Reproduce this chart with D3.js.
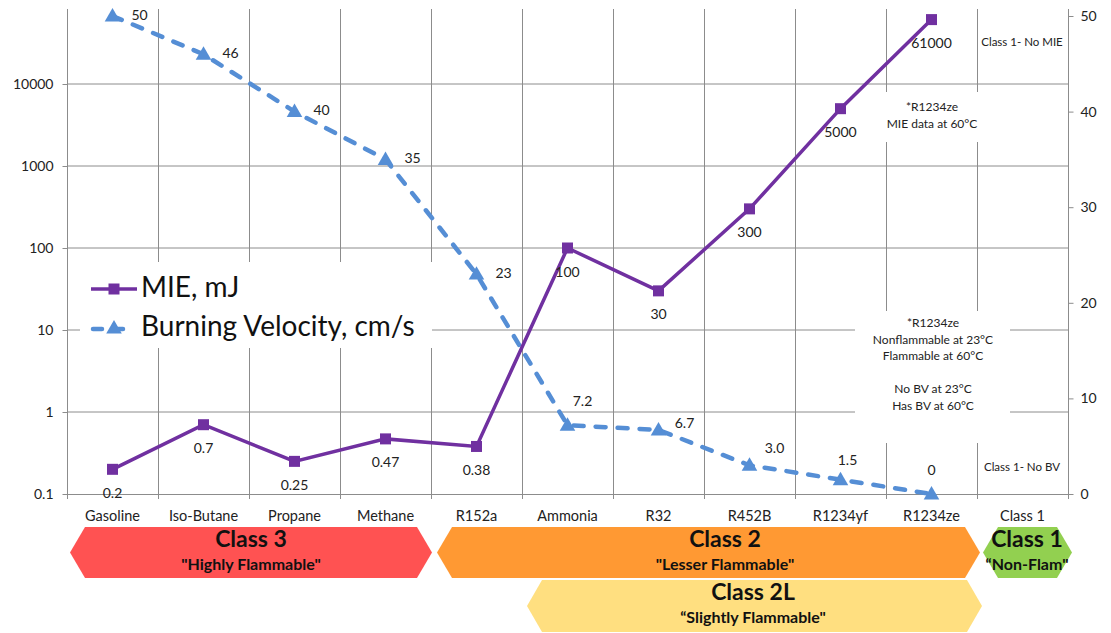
<!DOCTYPE html>
<html><head><meta charset="utf-8">
<script src="https://cdn.jsdelivr.net/npm/d3@7"></script>
<style>
body{margin:0;background:#fff;}
svg{display:block;font-family:Lato,"Open Sans",sans-serif;}
</style></head>
<body><svg id="c" width="1111" height="633"></svg>
<script>
const categories = ["Gasoline","Iso-Butane","Propane","Methane","R152a","Ammonia","R32","R452B","R1234yf","R1234ze","Class 1"];
const mieValues = [0.2,0.7,0.25,0.47,0.38,100,30,300,5000,61000];
const mieLabels = ["0.2","0.7","0.25","0.47","0.38","100","30","300","5000","61000"];
const bvValues = [50,46,40,35,23,7.2,6.7,3.0,1.5,0];
const bvLabels = ["50","46","40","35","23","7.2","6.7","3.0","1.5","0"];
const leftTicks = [0.1,1,10,100,1000,10000];
const leftTickLabels = ["0.1","1","10","100","1000","10000"];
const rightTicks = [0,10,20,30,40,50];
const seriesNames = ["MIE, mJ","Burning Velocity, cm/s"];
const classBands = [
  {name:"Class 3", sub:"\"Highly Flammable\"", color:"#FF5252"},
  {name:"Class 2", sub:"\"Lesser Flammable\"", color:"#FF9933"},
  {name:"Class 2L", sub:"\u201CSlightly Flammable\"", color:"#FFDF80"},
  {name:"Class 1", sub:"\u201CNon-Flam\"", color:"#92D050"}
];
// label offsets (styling)
const bvLabelOffsets = [[27,0],[27,0],[27,0],[27,0],[27,0],[15,-23],[26,-5],[25,-16],[7,-18],[0,-23]];

const svg = d3.select("#c");
const L=67, R=1068, T=9, B=494;
const x = d3.scaleBand().domain(categories).range([L,R]);
const yL = d3.scaleLog().domain([0.1,10000]).range([B,84]);
const yR = d3.scaleLinear().domain([0,50]).range([B,16]);
const cx = c => x(c)+x.bandwidth()/2;
const grid="#8c8c8c";

// gridlines
const g = svg.append("g");
g.selectAll(".hg").data(leftTicks.slice(1)).join("line")
  .attr("x1",L).attr("x2",R).attr("y1",d=>yL(d)).attr("y2",d=>yL(d)).attr("stroke",grid);
g.selectAll(".vg").data(categories.slice(1)).join("line")
  .attr("x1",d=>x(d)+0.5).attr("x2",d=>x(d)+0.5).attr("y1",T).attr("y2",B).attr("stroke",grid);

// white boxes hiding gridlines
const boxes = [[80,262,352,86],[884,92,96,50],[855,311,155,132]];
svg.selectAll(".wb").data(boxes).join("rect")
  .attr("x",d=>d[0]).attr("y",d=>d[1]).attr("width",d=>d[2]).attr("height",d=>d[3]).attr("fill","#fff");

// axes
const axL = svg.append("g").attr("transform",`translate(${L+0.5},0)`)
  .call(d3.axisLeft(yL).tickValues(leftTicks).tickFormat((d,i)=>leftTickLabels[i]).tickSize(5).tickPadding(9));
const axR = svg.append("g").attr("transform",`translate(${R+0.5},0)`)
  .call(d3.axisRight(yR).tickValues(rightTicks).tickSize(5).tickPadding(7));
const axB = svg.append("g").attr("transform",`translate(0,${B+0.5})`)
  .call(d3.axisBottom(x).tickSize(0).tickPadding(16));
svg.append("g").selectAll("line").data(categories.concat(["_end"])).join("line")
  .attr("x1",(d,i)=>(i<categories.length?x(d):R)+0.5).attr("x2",(d,i)=>(i<categories.length?x(d):R)+0.5)
  .attr("y1",B).attr("y2",B+5).attr("stroke",grid);
[axL,axR,axB].forEach(a=>{
  a.selectAll(".tick line").attr("stroke",grid);
  a.selectAll("text").attr("fill","#222").style("font-size","14px").style("font-family","Lato,sans-serif");
});
axB.selectAll("text").style("font-size","14.5px");
axL.select(".domain").remove(); axR.select(".domain").remove(); axB.select(".domain").remove();
svg.append("line").attr("x1",L+0.5).attr("x2",L+0.5).attr("y1",T).attr("y2",B).attr("stroke",grid);
svg.append("line").attr("x1",R+0.5).attr("x2",R+0.5).attr("y1",T).attr("y2",B).attr("stroke",grid);
svg.append("line").attr("x1",L).attr("x2",R).attr("y1",B+0.5).attr("y2",B+0.5).attr("stroke",grid);

const purple="#7030A0", blue="#558ED5";
const mieData = mieValues.map((v,i)=>({c:categories[i],v,l:mieLabels[i]}));
const bvData = bvValues.map((v,i)=>({c:categories[i],v,l:bvLabels[i],o:bvLabelOffsets[i]}));

// BV line
svg.append("path").datum(bvData)
  .attr("d",d3.line().x(d=>cx(d.c)).y(d=>yR(d.v)))
  .attr("fill","none").attr("stroke",blue).attr("stroke-width",4.5)
  .attr("stroke-dasharray","10,12").attr("stroke-linecap","round");
const tri = d3.symbol().type(d3.symbolTriangle).size(105);
svg.selectAll(".bvm").data(bvData).join("path")
  .attr("d",tri).attr("transform",d=>`translate(${cx(d.c)},${yR(d.v)+1})`).attr("fill",blue);

// MIE line
svg.append("path").datum(mieData)
  .attr("d",d3.line().x(d=>cx(d.c)).y(d=>yL(d.v)))
  .attr("fill","none").attr("stroke",purple).attr("stroke-width",3.5);
svg.selectAll(".mm").data(mieData).join("rect")
  .attr("x",d=>cx(d.c)-5.5).attr("y",d=>yL(d.v)-5.5).attr("width",11).attr("height",11).attr("fill",purple);

// labels
svg.selectAll(".ml").data(mieData).join("text")
  .attr("x",d=>cx(d.c)).attr("y",d=>yL(d.v)+25).attr("text-anchor","middle").attr("dominant-baseline","middle")
  .style("font-size","14px").attr("fill","#222").text(d=>d.l);
svg.selectAll(".bl").data(bvData).join("text")
  .attr("x",d=>cx(d.c)+d.o[0]).attr("y",d=>yR(d.v)+d.o[1]).attr("text-anchor","middle").attr("dominant-baseline","middle")
  .style("font-size","14px").attr("fill","#222").text(d=>d.l);

// legend
const lg = svg.append("g");
lg.append("line").attr("x1",91).attr("x2",137).attr("y1",289).attr("y2",289).attr("stroke",purple).attr("stroke-width",3.5);
lg.append("rect").attr("x",108.5).attr("y",283.5).attr("width",11).attr("height",11).attr("fill",purple);
lg.append("line").attr("x1",93).attr("x2",135).attr("y1",329).attr("y2",329).attr("stroke",blue).attr("stroke-width",4.5)
  .attr("stroke-dasharray","9,12").attr("stroke-linecap","round");
lg.append("path").attr("d",tri).attr("transform","translate(114,329)").attr("fill",blue);
lg.selectAll("text").data(seriesNames).join("text")
  .attr("x",141).attr("y",(d,i)=>290+i*39).attr("dominant-baseline","middle")
  .style("font-size","28px").attr("fill","#111").text(d=>d);

// annotations
function note(lines, xc, y0, dy, size){
  const t = svg.append("text").attr("text-anchor","middle").style("font-size",size+"px").attr("fill","#222");
  lines.forEach((s,i)=>t.append("tspan").attr("x",xc).attr("y",y0+i*dy).text(s));
}
note(["Class 1- No MIE"], 1022, 46, 0, 11.5);
note(["*R1234ze","MIE data at 60\u00B0C"], 932, 111, 17, 12);
note(["*R1234ze","Nonflammable at 23\u00B0C","Flammable at 60\u00B0C","","No BV at 23\u00B0C","Has BV at 60\u00B0C"], 933, 327, 16.5, 12);
note(["Class 1- No BV"], 1022, 471, 0, 11.5);

// class banners
const bannerRows = {"Class 3":[527,578],"Class 2":[527,578],"Class 2L":[580,632],"Class 1":[527,578]};
const bannerX = {"Class 3":[70,432],"Class 2":[437,980],"Class 2L":[527,982],"Class 1":[983,1072]};
const bannerTextX = {"Class 3":251,"Class 2":725,"Class 2L":753,"Class 1":1027};
classBands.forEach(b=>{
  const [y0,y1] = bannerRows[b.name];
  const [xa,xb] = bannerX[b.name];
  const ym=(y0+y1)/2, ind=15;
  svg.append("path").attr("d",`M${xa},${ym}L${xa+ind},${y0}L${xb-ind},${y0}L${xb},${ym}L${xb-ind},${y1}L${xa+ind},${y1}Z`)
    .attr("fill",b.color);
  const xm = bannerTextX[b.name];
  svg.append("text").attr("x",xm).attr("y",y0+14).attr("text-anchor","middle").attr("dominant-baseline","middle")
    .style("font-size","23px").style("font-weight","bold").attr("fill","#111").text(b.name);
  svg.append("text").attr("x",xm).attr("y",y0+39).attr("text-anchor","middle").attr("dominant-baseline","middle")
    .style("font-size","16px").style("font-weight","bold").attr("fill","#111").text(b.sub);
});
</script></body></html>
